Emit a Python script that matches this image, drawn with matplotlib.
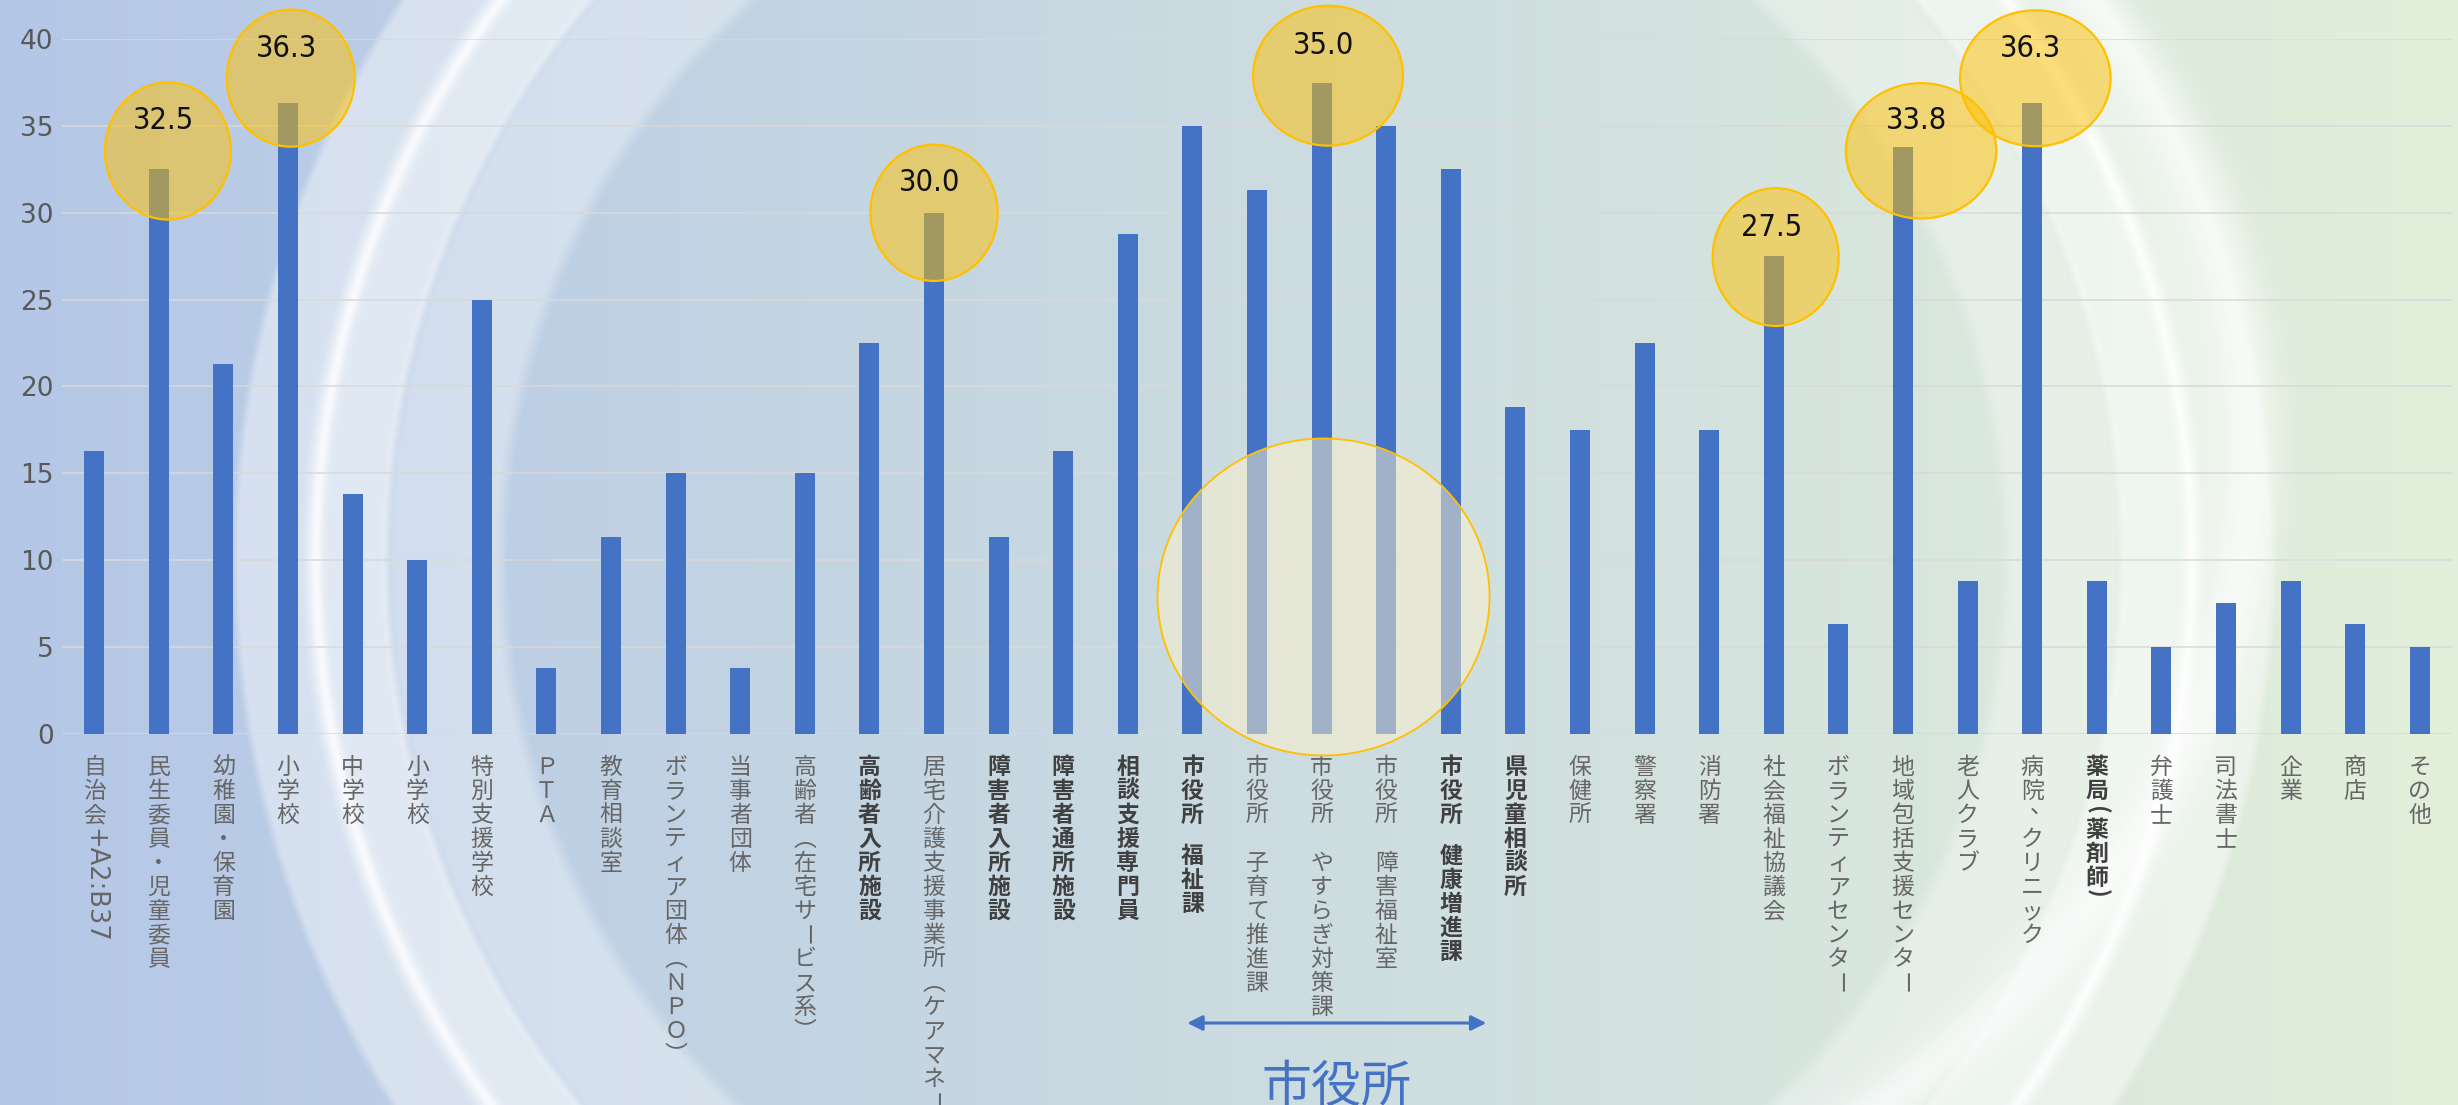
import numpy as np
import matplotlib.pyplot as plt
from matplotlib.patches import Ellipse

plt.rcParams['font.family'] = ['Noto Sans CJK JP', 'DejaVu Sans']

# ---- data ----
categories = [
    '自治会+A2:B37', '民生委員・児童委員', '幼稚園・保育園', '小学校', '中学校', '小学校',
    '特別支援学校', 'ＰＴＡ', '教育相談室', 'ボランティア団体（ＮＰＯ）', '当事者団体',
    '高齢者（在宅サービス系）', '高齢者入所施設', '居宅介護支援事業所（ケアマネージャー）',
    '障害者入所施設', '障害者通所施設', '相談支援専門員', '市役所 福祉課', '市役所　子育て推進課',
    '市役所　やすらぎ対策課', '市役所　障害福祉室', '市役所 健康増進課', '県児童相談所', '保健所',
    '警察署', '消防署', '社会福祉協議会', 'ボランティアセンター', '地域包括支援センター',
    '老人クラブ', '病院、クリニック', '薬局(薬剤師)', '弁護士', '司法書士', '企業', '商店', 'その他',
]
values = [
    16.3, 32.5, 21.3, 36.3, 13.8, 10.0, 25.0, 3.8, 11.3, 15.0, 3.8,
    15.0, 22.5, 30.0, 11.3, 16.3, 28.8, 35.0, 31.3, 37.5, 35.0,
    32.5, 18.8, 17.5, 22.5, 17.5, 27.5, 6.3, 33.8, 8.8, 36.3,
    8.8, 5.0, 7.5, 8.8, 6.3, 5.0,
]
bold_labels = ['高齢者入所施設', '障害者入所施設', '障害者通所施設', '相談支援専門員',
               '市役所 福祉課', '市役所 健康増進課', '県児童相談所', '薬局(薬剤師)']

highlight_idx = [1, 3, 13, 19, 26, 28, 30]
highlight_text = ['32.5', '36.3', '30.0', '35.0', '27.5', '33.8', '36.3']

group_label = '市役所'
group_span = (16.92, 21.55)

# ---- figure ----
W, H = 2458, 1105
fig = plt.figure(figsize=(W / 100, H / 100), dpi=100)

# background: blue->green gradient with light concentric bands
xs = np.arange(0, W, 2) + 1.0
ys = np.arange(0, H, 2) + 1.0
X, Y = np.meshgrid(xs, ys)
t = (X / W)[..., None]
left_c = np.array([180, 199, 231]) / 255
right_c = np.array([226, 239, 218]) / 255
base = left_c * (1 - t) + right_c * t


def band(d, lo, hi, soft):
    return np.clip((d - lo) / soft + 0.5, 0, 1) * np.clip((hi - d) / soft + 0.5, 0, 1)


d = np.hypot(X - 1254, Y - 560)
a1 = (0.42 * band(d, 950, 1019, 8) + 0.55 * band(d, 867, 950, 8)
      + 0.34 * band(d, 752, 867, 14))
a1 = np.clip(a1 + 0.35 * np.exp(-((d - 938) / 7) ** 2), 0, 1)
e = np.hypot((X - 1150) / 1130, (Y - 450) / 900)
a2 = 0.6 * np.exp(-((e - 0.975) / 0.025) ** 2) * np.clip((X - 1500) / 200, 0, 1)
alpha = 1 - (1 - a1) * (1 - a2)
bg = base * (1 - alpha[..., None]) + alpha[..., None]

ax_bg = fig.add_axes([0, 0, 1, 1], zorder=-1)
ax_bg.imshow(bg, extent=[0, W, H, 0], aspect='auto', interpolation='bilinear')
ax_bg.axis('off')

ax = fig.add_axes([62 / W, 1 - 733.6 / H, 2390 / W, 694.4 / H])
ax.patch.set_alpha(0)
x = np.arange(len(categories))
ax.bar(x, values, width=0.31, color='#4472C4', zorder=2)
ax.set_xlim(-0.5, len(categories) - 0.5)
ax.set_ylim(0, 40)
ax.set_yticks(np.arange(0, 41, 5))
ax.set_xticks([])
ax.set_axisbelow(True)
ax.yaxis.grid(True, color='#D9D9D9', linewidth=1.1)
for s in ax.spines.values():
    s.set_visible(False)
ax.tick_params(axis='y', length=0, pad=6, labelsize=19, labelcolor='#595959')
for lab in ax.get_yticklabels():
    lab.set_family('DejaVu Sans')


# vertical category labels, one character per cell
STEP = 24.0
VERT = {'（': '︵', '）': '︶'}


def put(i, s, dx, y, rot, color, weight, va='center', **kw):
    ax.annotate(s, xy=(i, 0), xycoords=('data', 'axes fraction'),
                xytext=(dx, -y), textcoords='offset pixels',
                ha='center', va=va, rotation=rot, fontsize=kw.pop('fontsize', 16.5),
                color=color, fontweight=weight, annotation_clip=False, **kw)


for i, name in enumerate(categories):
    bold = name in bold_labels
    color = '#404040' if bold else '#666666'
    weight = 'bold' if bold else 'normal'
    yoff = 34.0
    run = ''
    for ch in list(name) + ['']:
        if ch and (ch.isalnum() and ord(ch) < 128 or ch in ':+'):
            run += ch
            continue
        if run:
            # latin text runs sideways in vertical writing
            put(i, run, 0, yoff - STEP / 2, -90, color, weight, va='top',
                fontsize=18.5, family='DejaVu Sans')
            yoff += 0.7 * STEP * len(run)
            run = ''
        if not ch:
            break
        if ch == ' ':
            yoff += 0.7 * STEP
        elif ch == '　':
            yoff += STEP
        elif ch == '(':
            put(i, ch, 0, yoff - 0.2 * STEP, -90, color, weight)
            yoff += 0.6 * STEP
        elif ch == ')':
            put(i, ch, 0, yoff - 0.35 * STEP, -90, color, weight)
            yoff += 0.6 * STEP
        elif ch == '、':
            put(i, ch, 0.38 * STEP, yoff - 0.4 * STEP, 0, color, weight)
            yoff += STEP
        elif ch == 'ー':
            put(i, ch, 0, yoff, -90, color, weight)
            yoff += STEP
        else:
            put(i, VERT.get(ch, ch), 0, yoff, 0, color, weight)
            yoff += STEP

# highlight circles
ell_geom = [(0.14, 1.06, 1.95, 7.9), (0.04, 1.46, 1.98, 7.9), (0.0, 0.0, 1.97, 7.85),
            (0.1, 0.4, 2.32, 8.06), (0.03, -0.05, 1.95, 7.94), (0.28, -0.23, 2.33, 7.8),
            (0.05, 1.45, 2.33, 7.83)]
for idx, txt, (dx, dy, w, h) in zip(highlight_idx, highlight_text, ell_geom):
    cx, cy = idx + dx, values[idx] + dy
    ax.add_patch(Ellipse((cx, cy), w, h, facecolor=(1, 0.753, 0, 0.5),
                         edgecolor='#FFC000', linewidth=1.6, clip_on=False, zorder=3))
    ax.text(cx - 0.07, cy + 1.73, txt, ha='center', va='center', fontsize=22,
            family='DejaVu Sans', fontstretch='condensed', color='#111111',
            zorder=4, clip_on=False)

# big circle over the city-office group
ax.add_patch(Ellipse((19.03, 7.87), 5.14, 18.26, facecolor=(1, 0.949, 0.8, 0.5),
                     edgecolor='#FFC000', linewidth=1.3, clip_on=False, zorder=3))

# group arrow and label
ax.annotate('', xy=(group_span[0], 82), xycoords=('data', 'figure pixels'),
            xytext=(group_span[1], 82), textcoords=('data', 'figure pixels'),
            arrowprops=dict(arrowstyle='<|-|>,head_length=0.9,head_width=0.45',
                            color='#4472C4', lw=2.2, shrinkA=0, shrinkB=0),
            annotation_clip=False)
ax.annotate(group_label, xy=(19.23, 17), xycoords=('data', 'figure pixels'),
            ha='center', va='center', fontsize=36, color='#4472C4',
            annotation_clip=False)

fig.savefig('out.png', dpi=100)
